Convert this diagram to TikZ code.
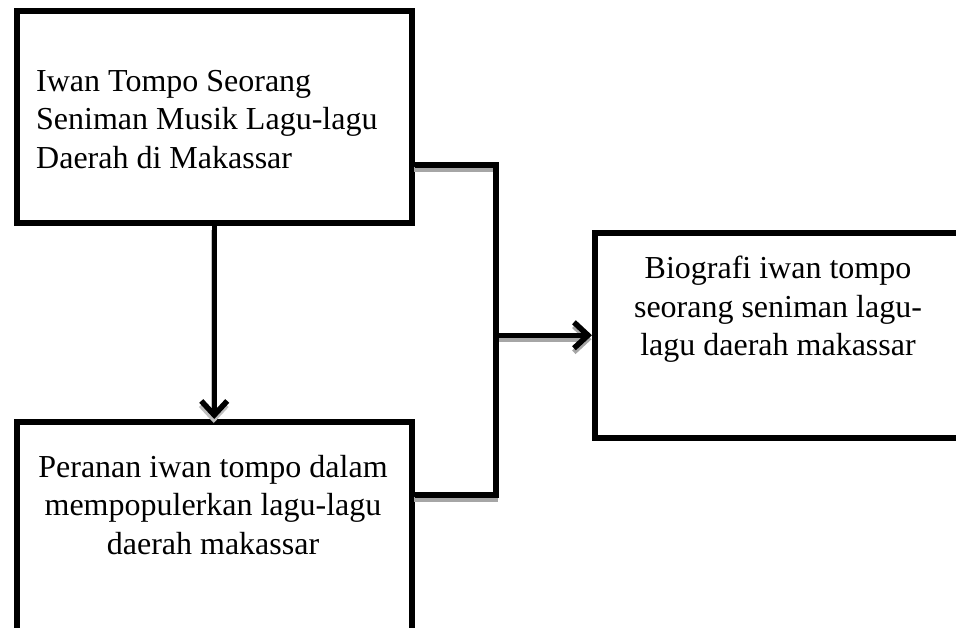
\documentclass[tikz,border=0pt]{standalone}
\usepackage{fontspec}
\setmainfont{Liberation Serif}
\usetikzlibrary{arrows.meta}
\begin{document}
\begin{tikzpicture}[x=1pt,y=-1pt,
  box/.style={draw=black,line width=5.5pt,rectangle,inner sep=0pt,anchor=north west},
  txt/.style={inner sep=0pt,font=\fontsize{32}{38.5}\selectfont},
  conn/.style={line width=5.5pt,draw=black},
  shad/.style={line width=5pt,draw=black!35,transform canvas={xshift=-0.5pt,yshift=-4pt}},
  tip/.style={-{Straight Barb[length=14pt,width=26pt]}}
]
\useasboundingbox (0,0) rectangle (956,627);
\clip (0,0) rectangle (956,627);
% junction coordinates
\coordinate (j1) at (496,165);
\coordinate (j2) at (496,495);
% boxes
\node[box,minimum width=395pt,minimum height=212pt] (b1) at (14,8) {};
\node[box,minimum width=395pt,minimum height=230pt] (b2) at (14,419) {};
\node[box,minimum width=380pt,minimum height=205pt] (b3) at (592,230) {};
% shadows
\draw[shad] (b1.east |- j1) -- (j1) -- (j2) -- (b2.east |- j2);
\draw[shad,tip] (j1 |- b3.west) -- (b3.west);
\draw[shad,tip,draw=black!25] (b1.south) -- (b2.north);
% connectors
\draw[conn] (b1.east |- j1) -- (j1) -- (j2) -- (b2.east |- j2);
\draw[conn,tip] (j1 |- b3.west) -- (b3.west);
\draw[conn,tip] (b1.south) -- (b2.north);
% texts
\node[txt,anchor=north west,align=left] (t1) at (36,70)
  {Iwan Tompo Seorang\\Seniman Musik Lagu-lagu\\Daerah di Makassar};
\node[txt,anchor=north,align=center] (t2) at (213,455)
  {Peranan iwan tompo dalam\\mempopulerkan lagu-lagu\\daerah makassar};
\node[txt,anchor=north,align=center] (t3) at (778,256)
  {Biografi iwan tompo\\seorang seniman lagu-\\lagu daerah makassar};
\end{tikzpicture}
\end{document}
